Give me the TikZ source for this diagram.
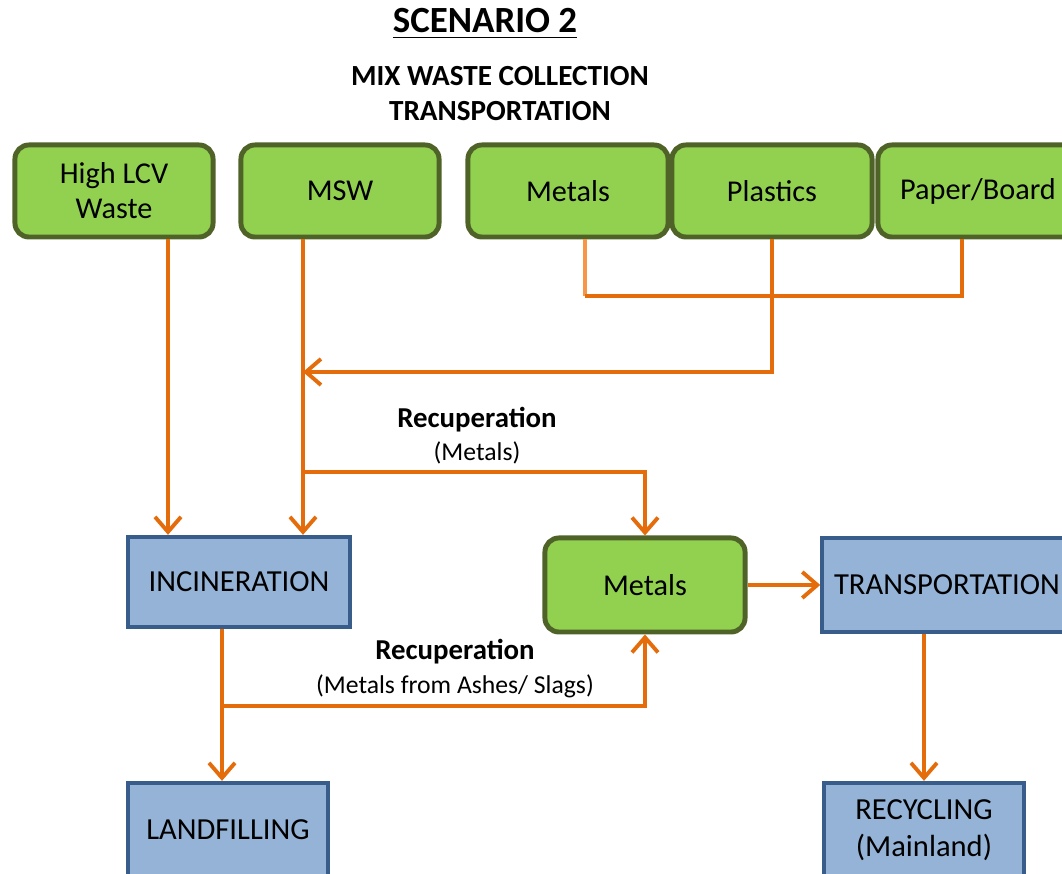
\documentclass[tikz,border=0pt]{standalone}
\usepackage{fontspec}
\setmainfont{Carlito}
\usetikzlibrary{arrows.meta}
\definecolor{boxgreen}{HTML}{92D050}
\definecolor{boxgreenline}{HTML}{4F6228}
\definecolor{boxblue}{HTML}{95B3D7}
\definecolor{boxblueline}{HTML}{385D8A}
\definecolor{flowor}{HTML}{E46C0A}
\definecolor{flowlight}{HTML}{F79646}
\tikzset{
	srcbox/.style={draw=boxgreenline,fill=boxgreen,line width=1.4pt,rounded corners=1.4mm,minimum width=1.98cm,minimum height=0.92cm,align=center,font=\fontsize{8.6}{10}\selectfont},
	procbox/.style={draw=boxblueline,fill=boxblue,line width=1.2pt,minimum height=0.9cm,align=center,font=\fontsize{8.7}{10.5}\selectfont},
	flow/.style={draw=flowor,line width=1.1pt,-{Straight Barb[length=1.5mm,width=2.6mm]}},
	link/.style={draw=flowor,line width=1.1pt},
	headtext/.style={font=\bfseries\fontsize{8.3}{10}\selectfont},
	recup/.style={font=\bfseries\fontsize{8.2}{10}\selectfont},
	recupnote/.style={font=\fontsize{7.3}{9}\selectfont}
}
\begin{document}
\begin{tikzpicture}[x=0.01cm,y=-0.01cm]
	\useasboundingbox (0,0) rectangle (1062,874);
	\node[font=\bfseries\fontsize{10.5}{12}\selectfont] (title) at (485,24) {\underline{SCENARIO 2}};
	\node[headtext] (head1) at (500,76) {MIX WASTE COLLECTION};
	\node[headtext] (head2) at (500,111) {TRANSPORTATION};
	\node[srcbox] (hlcv) at (114,191) {High LCV\\Waste};
	\node[srcbox] (msw) at (340,191) {MSW};
	\node[srcbox,minimum width=2.0cm] (metA) at (568,191) {Metals};
	\node[srcbox,minimum width=2.0cm] (plast) at (772,191) {Plastics};
	\node[srcbox,minimum width=2.0cm] (paper) at (978,191) {Paper/Board};
	\node[procbox,minimum width=2.22cm] (incin) at (239,582) {INCINERATION};
	\node[srcbox,minimum width=2.0cm,minimum height=0.94cm] (metB) at (645,585) {Metals};
	\node[procbox,minimum width=2.45cm,minimum height=0.94cm] (transp) at (947,585) {TRANSPORTATION};
	\node[procbox,minimum width=2.0cm,minimum height=0.94cm] (landf) at (228,830) {LANDFILLING};
	\node[procbox,minimum width=2.0cm,minimum height=0.94cm] (recyc) at (924,830) {RECYCLING\\(Mainland)};
	\coordinate (c1) at (168,0);
	\coordinate (c2) at (303,0);
	\coordinate (c3) at (585,0);
	\coordinate (c4) at (962,0);
	\coordinate (c5) at (222,0);
	\coordinate (bar) at (0,296);
	\coordinate (join) at (0,372);
	\coordinate (rec1) at (0,472);
	\coordinate (rec2) at (0,706);
	\draw[flow] (hlcv.south -| c1) -- (incin.north -| c1);
	\draw[flow] (msw.south -| c2) -- (incin.north -| c2);
	\draw[link,draw=flowlight] (metA.south -| c3) -- (c3 |- bar);
	\draw[link] (c3 |- bar) -- (c4 |- bar) -- (paper.south -| c4);
	\draw[flow] (plast.south) |- (c2 |- join);
	\draw[flow] (c2 |- rec1) -| (metB.north);
	\node[recup] (lab1) at (477,420) {Recuperation};
	\node[recupnote] (lab1b) at (477,453) {(Metals)};
	\draw[flow] (incin.south -| c5) -- (landf.north -| c5);
	\draw[flow] (c5 |- rec2) -| (metB.south);
	\node[recup] (lab2) at (455,652) {Recuperation};
	\node[recupnote] (lab2b) at (455,686) {(Metals from Ashes/ Slags)};
	\draw[flow] (metB) -- (transp);
	\draw[flow] (transp.south -| recyc) -- (recyc);
\end{tikzpicture}
\end{document}
